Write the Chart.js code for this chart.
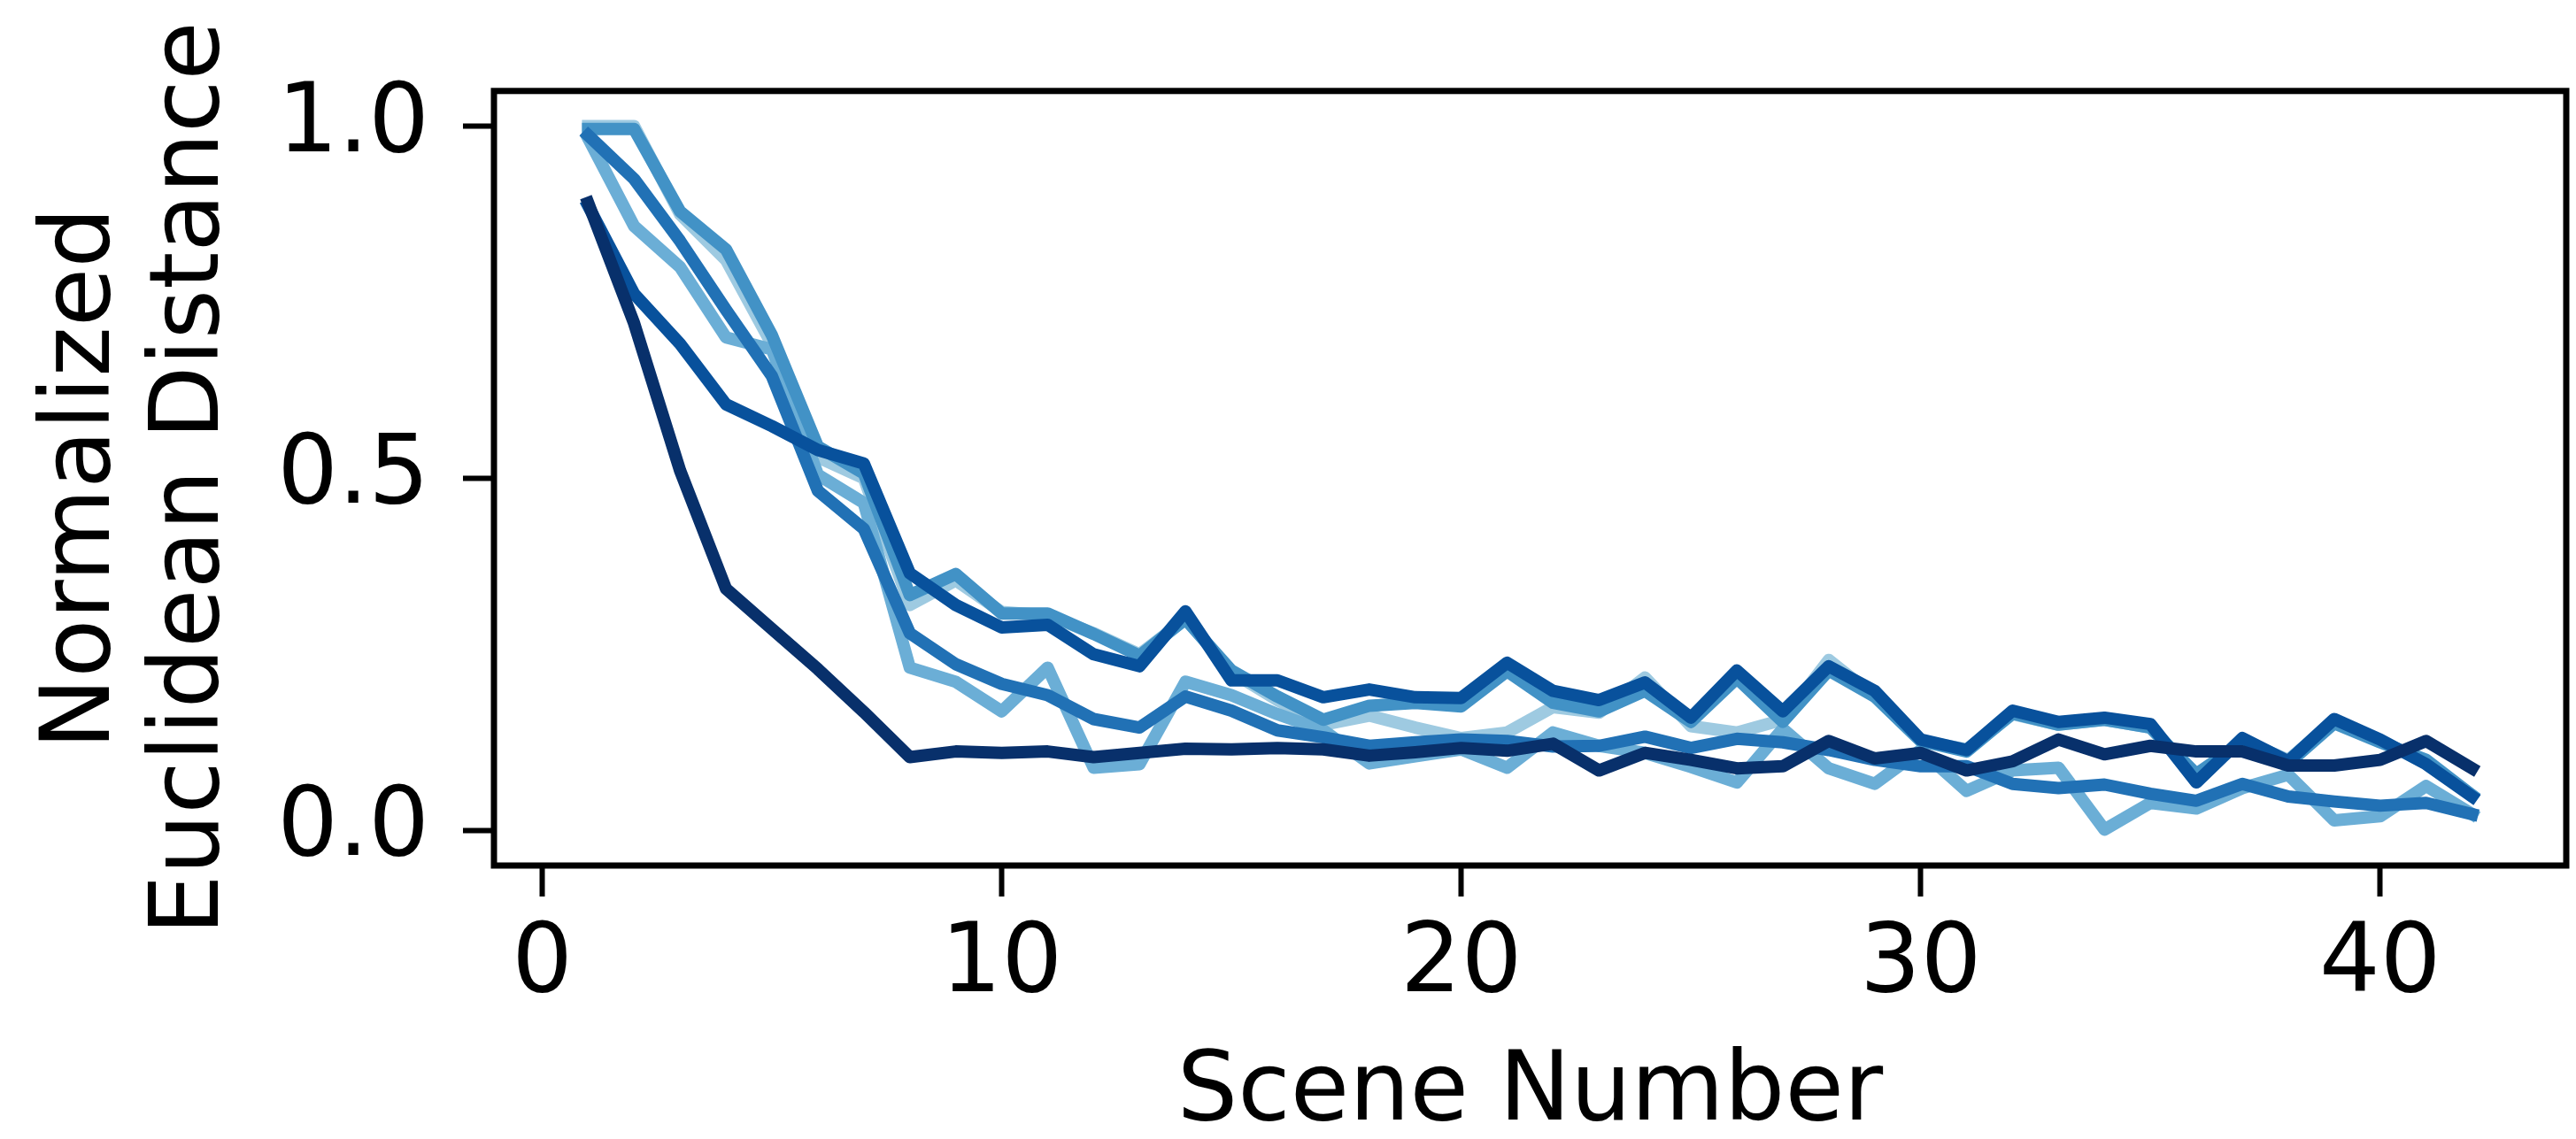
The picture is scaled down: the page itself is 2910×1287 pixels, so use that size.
<!DOCTYPE html>
<html>
<head>
<meta charset="utf-8">
<script src="https://cdn.jsdelivr.net/npm/chart.js@4.4.1/dist/chart.umd.min.js"></script>
<style>
  html, body { margin: 0; padding: 0; background: #fff; }
  #chart { display: block; }
</style>
</head>
<body>
<canvas id="chart" width="2910" height="1287"></canvas>
<script>
const scenes = [1, 2, 3, 4, 5, 6, 7, 8, 9, 10, 11, 12, 13, 14, 15, 16, 17, 18, 19, 20, 21,
  22, 23, 24, 25, 26, 27, 28, 29, 30, 31, 32, 33, 34, 35, 36, 37, 38, 39, 40, 41, 42];

const xTicks = [0, 10, 20, 30, 40];
const yTicks = [0, 0.5, 1];

// lightest to darkest, darkest is drawn on top
const run1 = [1.0, 1.0, 0.875, 0.81, 0.69, 0.53, 0.5, 0.32, 0.355, 0.31, 0.305, 0.28, 0.25, 0.3,
  0.225, 0.185, 0.15, 0.163, 0.146, 0.131, 0.139, 0.175, 0.167, 0.217, 0.148, 0.139, 0.157, 0.242,
  0.19, 0.127, 0.115, 0.165, 0.15, 0.157, 0.146, 0.075, 0.128, 0.1, 0.155, 0.128, 0.095, 0.05];
const run2 = [0.983, 0.858, 0.8, 0.7, 0.683, 0.505, 0.465, 0.231, 0.211, 0.169, 0.231, 0.089, 0.094,
  0.211, 0.192, 0.165, 0.142, 0.095, 0.105, 0.115, 0.089, 0.139, 0.12, 0.11, 0.09, 0.068, 0.144,
  0.088, 0.066, 0.114, 0.056, 0.085, 0.089, 0.001, 0.039, 0.031, 0.06, 0.079, 0.014, 0.02, 0.063, 0.023];
const run3 = [0.996, 0.996, 0.879, 0.825, 0.703, 0.545, 0.507, 0.334, 0.364, 0.308, 0.308, 0.279,
  0.248, 0.3, 0.227, 0.19, 0.157, 0.177, 0.181, 0.176, 0.226, 0.181, 0.169, 0.198, 0.154, 0.216,
  0.154, 0.227, 0.19, 0.127, 0.112, 0.166, 0.15, 0.157, 0.146, 0.08, 0.125, 0.095, 0.152, 0.125, 0.1, 0.05];
const run4 = [0.987, 0.925, 0.837, 0.739, 0.645, 0.482, 0.428, 0.28, 0.236, 0.208, 0.192, 0.158,
  0.146, 0.19, 0.17, 0.142, 0.132, 0.12, 0.125, 0.129, 0.127, 0.119, 0.12, 0.133, 0.117, 0.13,
  0.125, 0.114, 0.1, 0.091, 0.091, 0.066, 0.06, 0.065, 0.052, 0.042, 0.066, 0.048, 0.041, 0.035, 0.039, 0.023];
const run5 = [0.887, 0.762, 0.691, 0.605, 0.574, 0.54, 0.521, 0.365, 0.32, 0.288, 0.292, 0.25, 0.233,
  0.311, 0.213, 0.213, 0.189, 0.2, 0.189, 0.188, 0.238, 0.198, 0.185, 0.21, 0.16, 0.227, 0.169,
  0.233, 0.198, 0.129, 0.114, 0.17, 0.154, 0.16, 0.151, 0.068, 0.131, 0.098, 0.158, 0.129, 0.094, 0.048];
const run6 = [0.891, 0.72, 0.511, 0.343, 0.286, 0.229, 0.168, 0.104, 0.112, 0.11, 0.112, 0.104, 0.11,
  0.116, 0.115, 0.117, 0.115, 0.106, 0.111, 0.117, 0.113, 0.123, 0.085, 0.11, 0.1, 0.088, 0.091,
  0.127, 0.102, 0.11, 0.085, 0.098, 0.129, 0.108, 0.12, 0.112, 0.112, 0.092, 0.092, 0.1, 0.127, 0.088];

const runs = [run1, run2, run3, run4, run5, run6];
const colors = ["#9ecae1", "#6baed6", "#4292c6", "#2171b5", "#08519c", "#08306b"];

const fontFamily = "'DejaVu Sans', sans-serif";

// top and right spines, drawn over the lines like matplotlib does
const frame = {
  id: "frame",
  afterDatasetsDraw(chart) {
    const { ctx, chartArea: a } = chart;
    ctx.save();
    ctx.strokeStyle = "#000";
    ctx.lineWidth = 7;
    ctx.strokeRect(a.left, a.top, a.right - a.left, a.bottom - a.top);
    ctx.restore();
  },
};

const datasets = runs.map((values, i) => ({
  data: scenes.map((s, j) => ({ x: s, y: values[j] })),
  borderColor: colors[i],
  backgroundColor: colors[i],
  borderWidth: 14,
  borderCapStyle: "square",
  borderJoinStyle: "round",
  pointRadius: 0,
  tension: 0,
  fill: false,
  order: runs.length - i, // lower order is drawn on top
}));

const tickGrid = {
  display: true,
  drawOnChartArea: false,
  drawTicks: true,
  tickLength: 35,
  tickWidth: 6,
  tickColor: "#000",
};

new Chart(document.getElementById("chart"), {
  type: "line",
  data: { datasets },
  options: {
    responsive: false,
    animation: false,
    layout: { padding: { left: 0, top: 100, right: 11, bottom: 0 } },
    plugins: {
      legend: { display: false },
      tooltip: { enabled: false },
    },
    scales: {
      x: {
        type: "linear",
        min: -1.05,
        max: 44.05,
        afterBuildTicks: (s) => { s.ticks = xTicks.map((v) => ({ value: v })); },
        afterFit: (s) => { s.height = 309; },
        grid: tickGrid,
        border: { display: false },
        ticks: {
          padding: 14,
          maxRotation: 0,
          color: "#000",
          font: { family: fontFamily, size: 108 },
          callback: (v) => String(v),
        },
        title: {
          display: true,
          text: "Scene Number",
          color: "#000",
          font: { family: fontFamily, size: 108, lineHeight: 0.92 },
          padding: { top: 0, bottom: 0 },
        },
      },
      y: {
        type: "linear",
        min: -0.05,
        max: 1.05,
        afterBuildTicks: (s) => { s.ticks = yTicks.map((v) => ({ value: v })); },
        afterFit: (s) => { s.width = 558; },
        grid: tickGrid,
        border: { display: false },
        ticks: {
          padding: 38,
          color: "#000",
          font: { family: fontFamily, size: 108 },
          callback: (v) => v.toFixed(1),
        },
        title: {
          display: true,
          text: ["Normalized", "Euclidean Distance"],
          color: "#000",
          font: { family: fontFamily, size: 108, lineHeight: 1.14 },
          padding: { top: 33, bottom: 0 },
        },
      },
    },
  },
  plugins: [frame],
});
</script>
</body>
</html>
